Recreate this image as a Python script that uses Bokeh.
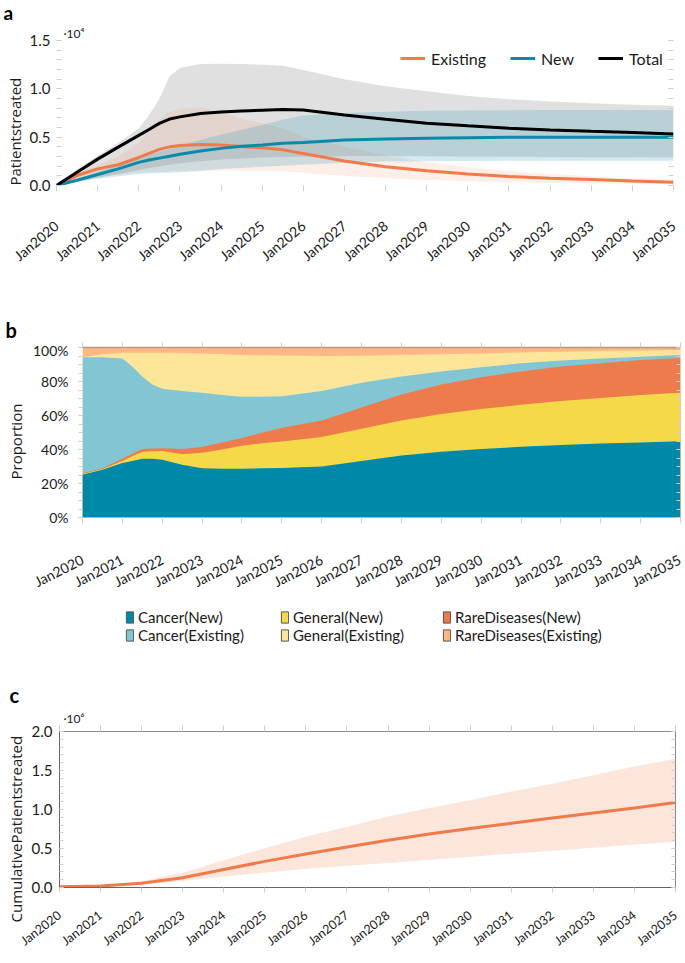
import numpy as np
from bokeh.plotting import figure
from bokeh.models import (ColumnDataSource, FixedTicker, Legend, LegendItem,
                          Label, LinearAxis, Range1d, Title)
from bokeh.embed import file_html
from bokeh.resources import INLINE

# ---------------- data ----------------
years = list(range(2020, 2036))
year_labels = ["Jan%d" % y for y in years]

# Panel a: patients treated (per year)
years_a = [2020, 2020.5, 2021, 2021.5, 2022, 2022.25, 2022.5, 2022.75, 2023, 2023.5,
           2024, 2024.5, 2025, 2025.5, 2026, 2027, 2028, 2029, 2030, 2031, 2032,
           2033, 2034, 2035]
existing_mid = [0, 1040, 1720, 2150, 2900, 3330, 3740, 4000, 4140, 4240,
                4180, 4040, 3900, 3700, 3300, 2530, 1950, 1520, 1180, 940, 740,
                610, 470, 340]
existing_lo = [0, 500, 900, 1150, 1350, 1400, 1450, 1470, 1500, 1530,
               1550, 1550, 1530, 1500, 1300, 1000, 750, 580, 450, 360, 290,
               230, 180, 140]
existing_hi = [0, 1300, 2100, 3000, 4400, 5760, 6900, 7600, 7950, 8050,
               7600, 6900, 6430, 5900, 5000, 4000, 3100, 2400, 1900, 1500, 1200,
               950, 750, 600]
new_mid = [0, 540, 1140, 1720, 2390, 2630, 2830, 3030, 3230, 3570,
           3840, 4070, 4180, 4380, 4440, 4710, 4810, 4880, 4950, 4980, 5000,
           5000, 5000, 5000]
new_lo = [0, 350, 700, 950, 1200, 1250, 1300, 1330, 1380, 1500,
          1700, 1820, 1950, 2050, 2150, 2350, 2480, 2520, 2540, 2550, 2550,
          2550, 2550, 2550]
new_hi = [0, 700, 1400, 2100, 2900, 3200, 3500, 3800, 4100, 4700,
          5250, 5750, 6260, 6800, 7240, 7500, 7640, 7740, 7750, 7780, 7800,
          7800, 7800, 7800]
total_mid = [0, 1380, 2730, 3970, 5190, 5800, 6430, 6870, 7100, 7440,
             7610, 7710, 7780, 7850, 7800, 7300, 6850, 6450, 6180, 5920, 5740,
             5600, 5480, 5330]
total_lo = [0, 400, 800, 1200, 1600, 1800, 2000, 2150, 2300, 2500,
            2700, 2800, 2900, 2950, 3000, 3050, 3050, 3020, 3000, 2980, 2950,
            2930, 2910, 2900]
total_hi = [0, 1700, 3060, 4400, 5900, 7270, 8950, 11300, 12150, 12560,
            12600, 12560, 12500, 12400, 11950, 11000, 10270, 9760, 9260, 8920,
            8690, 8520, 8350, 8250]
a_ticks = [0, 5000, 10000, 15000]
a_tick_labels = ["0.0", "0.5", "1.0", "1.5"]

# Panel b: proportion (percent of patients)
years_b = [2020, 2020.5, 2021, 2021.25, 2021.5, 2021.75, 2022, 2022.5, 2023, 2023.5,
           2024, 2024.5, 2025, 2026, 2027, 2028, 2029, 2030, 2031, 2032, 2033, 2034, 2035]
cancer_new = [25.2, 28.1, 32.0, 33.3, 34.5, 34.5, 34.0, 31.0, 29.0, 28.7,
              28.7, 28.9, 29.1, 30.0, 33.3, 36.4, 38.7, 40.3, 41.6, 42.6, 43.5, 44.1, 44.9]
general_new = [0.4, 0.4, 1.3, 2.7, 4.2, 4.5, 5.1, 6.2, 9.1, 11.3,
               13.5, 14.8, 15.6, 17.4, 18.9, 20.6, 22.2, 23.5, 24.7, 26.0, 26.8, 27.9, 28.5]
rare_new = [0.4, 0.5, 1.2, 1.5, 1.6, 1.6, 1.6, 3.1, 3.3, 4.1,
            4.6, 6.2, 8.1, 9.6, 12.5, 15.4, 17.3, 18.7, 19.6, 20.2, 20.4, 20.7, 20.4]
cancer_existing = [68.2, 65.2, 59.1, 51.3, 42.7, 37.6, 35.0, 34.1, 32.0, 28.0,
                   24.3, 21.2, 18.5, 17.4, 14.5, 10.6, 7.7, 5.9, 4.8, 3.5, 2.9, 1.9, 1.8]
general_existing = [0.0, 1.9, 3.3, 8.1, 13.9, 18.7, 21.2, 22.3, 23.1, 23.9,
                    24.5, 24.3, 24.0, 20.6, 16.0, 12.6, 10.1, 8.1, 6.4, 5.2, 4.3, 3.7, 3.0]
rare_existing = [5.8, 3.9, 3.1, 3.1, 3.1, 3.1, 3.1, 3.3, 3.5, 4.0,
                 4.4, 4.6, 4.7, 5.0, 4.8, 4.4, 4.0, 3.5, 2.9, 2.5, 2.1, 1.7, 1.4]
b_names = ["Cancer(New)", "General(New)", "RareDiseases(New)",
           "Cancer(Existing)", "General(Existing)", "RareDiseases(Existing)"]
b_ticks = [0, 20, 40, 60, 80, 100]
b_tick_labels = ["0%", "20%", "40%", "60%", "80%", "100%"]

# Panel c: cumulative patients treated
years_c = years
cum_mid = [10000, 20000, 55000, 126000, 230000, 335000, 430000, 520000, 605000,
           685000, 755000, 823000, 890000, 955000, 1020000, 1090000]
cum_lo = [0, 15000, 42000, 84000, 140000, 190000, 240000, 280000, 315000,
          356000, 395000, 433000, 472000, 510000, 550000, 587000]
cum_hi = [15000, 25000, 80000, 190000, 350000, 503000, 650000, 780000, 910000,
          1020000, 1120000, 1230000, 1330000, 1440000, 1550000, 1650000]
c_ticks = [0, 500000, 1000000, 1500000, 2000000]
c_tick_labels = ["0.0", "0.5", "1.0", "1.5", "2.0"]

# ---------------- style ----------------
W = 683
ORANGE = "#EF7B4B"
TEAL = "#0A89A8"
GRAYBAND = "#C2C2C2"
B_COLORS = ["#0088A8", "#F5D949", "#EE7B4B", "#82C6D3", "#FDE69A", "#FDB886"]
TEXT = "#1a1a1a"
TICKF = "Lato"
TITLEF = "Open Sans"
TICKC = "#cfcfcf"


def hide_labels(ax):
    ax.major_label_text_color = None
    ax.major_label_text_font_size = "1px"
    ax.major_label_standoff = 0


def year_axis(ax, angle, standoff, size, tick_out, labels=True):
    ax.ticker = FixedTicker(ticks=years, minor_ticks=[])
    ax.major_label_overrides = {y: l for y, l in zip(years, year_labels)}
    ax.major_label_orientation = angle
    ax.major_label_standoff = standoff
    ax.major_label_text_font = TICKF
    ax.major_label_text_font_size = size
    ax.major_label_text_color = TEXT
    ax.major_tick_in = 0
    ax.major_tick_out = tick_out
    ax.major_tick_line_color = TICKC
    ax.minor_tick_line_color = None
    ax.axis_line_color = None
    if not labels:
        hide_labels(ax)


def value_axis(ax, ticks, labels, minor, size, standoff, t_in, t_out, labelled=True):
    ax.ticker = FixedTicker(ticks=ticks, minor_ticks=minor)
    ax.major_label_overrides = {t: l for t, l in zip(ticks, labels)}
    ax.major_label_text_font = TICKF
    ax.major_label_text_font_size = size
    ax.major_label_text_color = TEXT
    ax.major_label_standoff = standoff
    ax.major_tick_in = t_in
    ax.major_tick_out = t_out
    ax.minor_tick_in = t_in
    ax.minor_tick_out = t_out
    ax.major_tick_line_color = TICKC
    ax.minor_tick_line_color = TICKC
    ax.axis_line_color = None
    if not labelled:
        hide_labels(ax)


def base_fig(height, y_end, left, right, top, bottom):
    p = figure(width=W, height=height, x_range=Range1d(2020, 2035),
               y_range=Range1d(0, y_end), output_backend="svg", title=None,
               toolbar_location=None, min_border_left=left,
               min_border_right=right, min_border_top=top,
               min_border_bottom=bottom)
    p.grid.visible = False
    p.outline_line_color = None
    return p


def strip(height):
    s = figure(width=W, height=height, x_range=Range1d(0, W), y_range=Range1d(0, height),
               x_axis_location=None, y_axis_location=None, output_backend="svg",
               title=None, toolbar_location=None, min_border_left=0,
               min_border_right=0, min_border_top=0, min_border_bottom=0)
    s.grid.visible = False
    s.outline_line_color = None
    return s


def letter(s, x, y, text, size):
    s.add_layout(Label(x=x, y=y, text=text,
                       text_font=TICKF, text_font_size=size, text_font_style="bold",
                       text_color="#000000", text_baseline="middle"))


def ytitle(p, text, offset, standoff):
    p.add_layout(Title(text=text, align="left", offset=offset, standoff=standoff,
                       text_font=TITLEF, text_font_size="15px",
                       text_font_style="normal", text_color=TEXT), "left")


def exponent(p, text, offset):
    p.add_layout(Title(text=text, align="left", offset=offset, standoff=0,
                       text_font=TICKF, text_font_size="12px",
                       text_font_style="normal", text_color=TEXT), "above")


# ---------------- header a ----------------
ha = strip(23)
letter(ha, 3, 11.5, "a", "19px")

# ---------------- panel a ----------------
pa = base_fig(277, 15000, 54, 10, 14, 115)
src_a = ColumnDataSource(dict(x=years_a, em=existing_mid, el=existing_lo, eh=existing_hi,
                              nm=new_mid, nl=new_lo, nh=new_hi,
                              tm=total_mid, tl=total_lo, th=total_hi))
pa.varea(x="x", y1="tl", y2="th", source=src_a, fill_color=GRAYBAND, fill_alpha=0.5)
pa.varea(x="x", y1="el", y2="eh", source=src_a, fill_color=ORANGE, fill_alpha=0.13)
pa.varea(x="x", y1="nl", y2="nh", source=src_a, fill_color=TEAL, fill_alpha=0.19)
r_ex = pa.line(x="x", y="em", source=src_a, line_color=ORANGE, line_width=3)
r_new = pa.line(x="x", y="nm", source=src_a, line_color=TEAL, line_width=3)
r_tot = pa.line(x="x", y="tm", source=src_a, line_color="black", line_width=3)

year_axis(pa.xaxis[0], 0.70, 32, "14px", 6)
a_minor = list(np.arange(0, 15001, 1000))
value_axis(pa.yaxis[0], a_ticks, a_tick_labels, a_minor, "15px", 6, 5, 0)
ra = LinearAxis()
value_axis(ra, a_ticks, a_tick_labels, a_minor, "15px", 0, 5, 0, labelled=False)
pa.add_layout(ra, "right")

leg_a = Legend(items=[LegendItem(label="Existing", renderers=[r_ex]),
                      LegendItem(label="New", renderers=[r_new]),
                      LegendItem(label="Total", renderers=[r_tot])],
               orientation="horizontal", location=(344, 117), border_line_color=None,
               background_fill_alpha=0, padding=0, margin=0, spacing=24,
               glyph_width=25, glyph_height=20, label_standoff=6,
               label_text_font=TICKF, label_text_font_size="16px",
               label_text_color=TEXT)
pa.add_layout(leg_a)
ytitle(pa, "Patientstreated", 0, 4)
exponent(pa, "\u00b710\u2074", 7)

# ---------------- header b ----------------
hb = strip(41)
letter(hb, 5, 12, "b", "20px")

# ---------------- panel b ----------------
pb = base_fig(259, 100, 80, 3, 6, 80)
layers = np.array([cancer_new, general_new, rare_new, cancer_existing,
                   general_existing, rare_existing])
cum = np.cumsum(layers, axis=0)
for i in range(5, -1, -1):
    pb.varea(x=years_b, y1=0, y2=cum[i], fill_color=B_COLORS[i])

year_axis(pb.xaxis[0], 0.47, 35, "14px", 6)
b_minor = list(range(0, 101, 5))
value_axis(pb.yaxis[0], b_ticks, b_tick_labels, b_minor, "14px", 10, 0, 4)
rb = LinearAxis()
value_axis(rb, b_ticks, b_tick_labels, b_minor, "14px", 0, 4, 0, labelled=False)
pb.add_layout(rb, "right")
tb = LinearAxis()
year_axis(tb, 0, 0, "14px", 5, labels=False)
tb.axis_line_color = "#B8977E"
tb.axis_line_width = 1.5
pb.add_layout(tb, "above")
ytitle(pb, "Proportion", 38, 7)

# ---------------- legend strip for b ----------------
fb = strip(50)
# legend swatches: one off-screen quad per category (only their legend glyph shows)
dummies = [fb.quad(left=[-30], right=[-20], top=[1], bottom=[0], fill_color=c,
                   line_color="#555555", line_width=1) for c in B_COLORS]
for col, xpos in enumerate([125, 280, 442]):
    items = [LegendItem(label=b_names[col], renderers=[dummies[col]]),
             LegendItem(label=b_names[col + 3], renderers=[dummies[col + 3]])]
    lg = Legend(items=items, orientation="vertical", location=(xpos, 6),
                border_line_color=None, background_fill_alpha=0, padding=0,
                margin=0, spacing=0, glyph_width=9, glyph_height=14,
                label_height=14, label_standoff=4, label_text_font=TICKF,
                label_text_font_size="15px", label_text_color=TEXT)
    fb.add_layout(lg)

# ---------------- header c ----------------
hc = strip(58)
letter(hc, 9, 13.7, "c", "20px")

# ---------------- panel c ----------------
pc = base_fig(254, 2000000, 57, 8, 20, 75)
pc.outline_line_color = "#8a8a8a"
src_c = ColumnDataSource(dict(x=years_c, m=cum_mid, lo=cum_lo, hi=cum_hi))
pc.varea(x="x", y1="lo", y2="hi", source=src_c, fill_color=ORANGE, fill_alpha=0.2)
pc.line(x="x", y="m", source=src_c, line_color=ORANGE, line_width=3)

year_axis(pc.xaxis[0], 0.66, 21, "12.5px", 5)
pc.xaxis[0].axis_line_color = "#666666"
c_minor = list(np.arange(0, 2000001, 100000))
value_axis(pc.yaxis[0], c_ticks, c_tick_labels, c_minor, "15px", 7, 4, 0)
pc.yaxis[0].axis_line_color = "#666666"
rc = LinearAxis()
value_axis(rc, c_ticks, c_tick_labels, c_minor, "15px", 0, 4, 0, labelled=False)
pc.add_layout(rc, "right")
tc = LinearAxis()
year_axis(tc, 0, 0, "13px", 6, labels=False)
pc.add_layout(tc, "above")
exponent(pc, "\u00b710\u2076", 4)
ytitle(pc, "CumulativePatientstreated", -35, 6)

open("out.html", "w").write(file_html([ha, pa, hb, pb, fb, hc, pc], INLINE))
